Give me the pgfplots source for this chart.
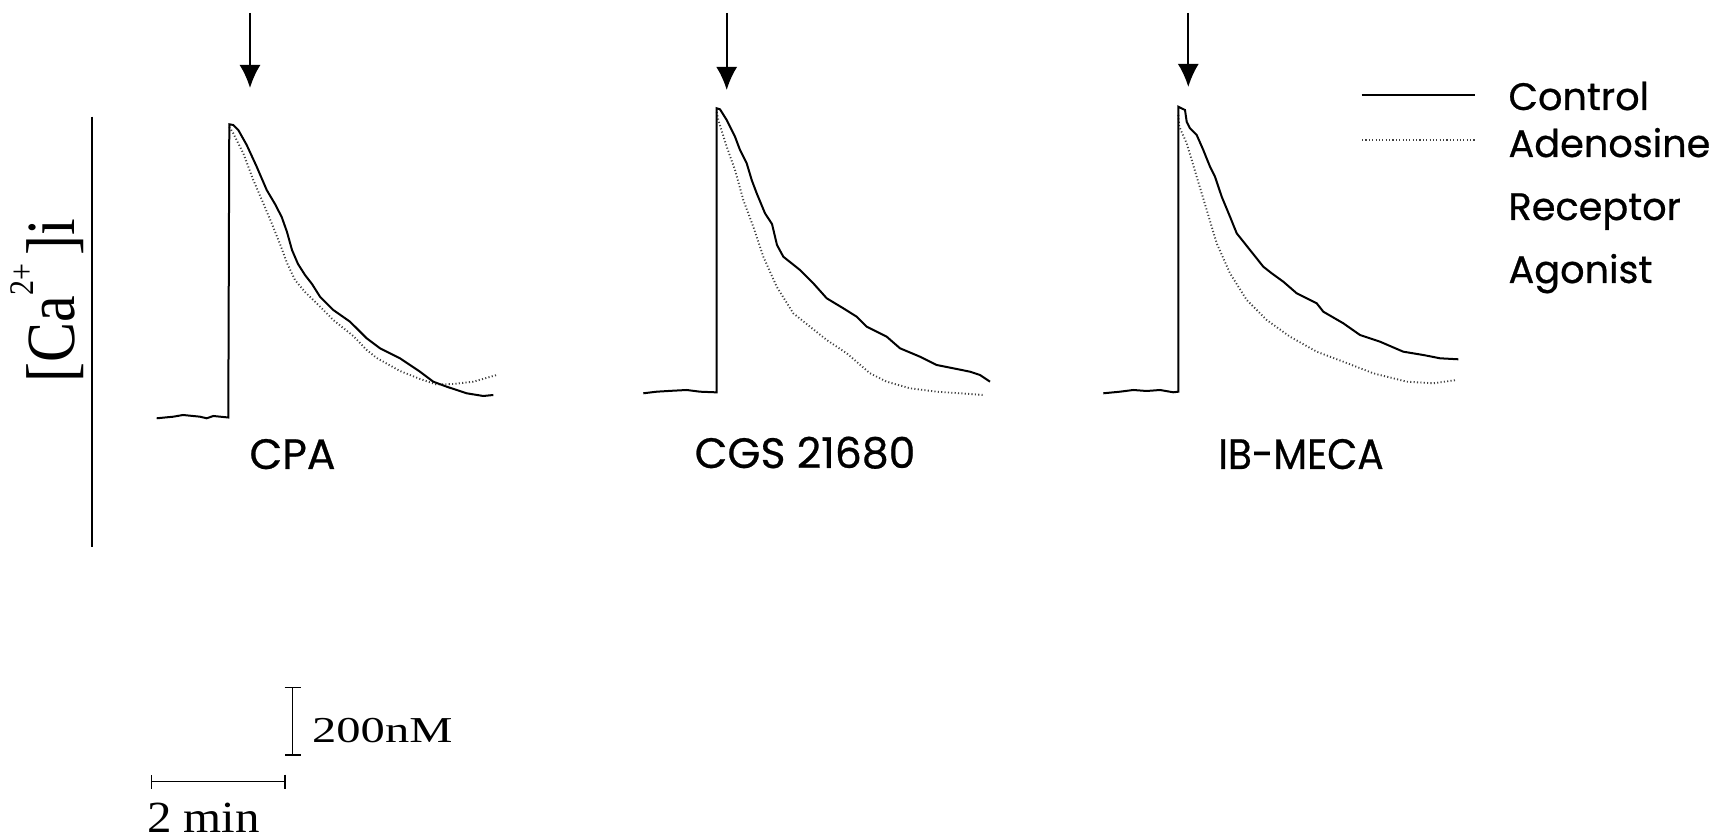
\documentclass[border=0pt]{standalone}
\usepackage{pgfplots}
\pgfplotsset{compat=1.18}
\usepackage{pgfplotstable}
\usepackage{fontspec}
\setmainfont{Liberation Serif}
\newfontfamily\gothic{Poppins}[FakeBold=0.6]
\usetikzlibrary{arrows.meta}

% traces in picture units (x: time, y: [Ca2+]i, downward = lower)
\pgfplotstableread{
x y
156.7 418.3
173.3 416.7
183 415
200 416.7
206.7 418.3
213.3 416
228.3 417.5
229.3 124.3
233.3 125
238.3 130
246.7 145
256.7 166.7
266.7 190
275 204
281.7 217
287 232
292 250
298 264
305 275
312 284
320 296.7
333.3 310
350 321.7
366.7 338.3
380 348.3
400 358.3
420 371.7
433.3 381.7
446.7 386.7
466.7 393.3
483.3 396
493.3 395
}\cpaC
\pgfplotstableread{
x y
229.3 127
233.3 133.3
243.3 153.3
253.3 180
263.3 203.3
271.7 223.3
280 244
287 263
295 280
305 292
316.7 303.3
333.3 320
353.3 336
366.7 350
376.7 358
400 371
420 379
436.7 384.5
453.3 384
473.3 381.7
496.7 375
}\cpaA
\pgfplotstableread{
x y
643.3 393.3
656.7 391.7
673.3 390.7
686.7 390
700 391.7
715 392.3
716.7 392.3
716.7 108.3
720 109.3
726.7 120
735 136.7
740 150
746.7 163.3
751.7 180
756.7 193.3
765 213.3
772 224
777 245
783.3 256.7
800 270
813.3 283.3
826.7 298.3
843.3 308.3
856.7 316.7
866.7 326.7
886.7 336.7
900 348.3
920 356.7
936.7 365
953.3 368.3
970 371.7
980 375
990 381.7
}\cgsC
\pgfplotstableread{
x y
716.7 112
718.3 120
726.7 146.7
735 170
743.3 200
753.3 226.7
763.3 256.7
776.7 286.7
793.3 313.3
810 326.7
826.7 340
846.7 353.3
870 373.3
886.7 381.7
910 388.3
936.7 391.7
960 393.3
983.3 395
}\cgsA
\pgfplotstableread{
x y
1103.3 393.3
1120 391.7
1133.3 390
1146.7 391
1160 390
1173.3 392.3
1178.3 391.7
1178.3 106.7
1185 110
1186.7 121.7
1190 128.3
1196.7 135
1203.3 150
1210 166.7
1215 176.7
1221.7 196.7
1230 216.7
1236.7 233.3
1250 250
1263.3 266.7
1271.7 273.3
1283.3 281.7
1296.7 293.3
1316.7 303.3
1323.3 311.7
1343.3 323.3
1360 335
1380 341.7
1403.3 351.7
1423.3 355
1440 358.3
1458.3 359.3
}\ibC
\pgfplotstableread{
x y
1178.3 115
1179.3 126.7
1186.7 143.3
1196.7 176.7
1206.7 210
1216.7 243.3
1230 273.3
1246.7 300
1266.7 320
1290 336.7
1316.7 351.7
1343.3 361.7
1373.3 373.3
1406.7 381.7
1433.3 383.3
1456.7 380
}\ibA

\begin{document}
\begin{tikzpicture}
\begin{axis}[
  scale only axis, width=688.8pt, height=335.6pt,
  xmin=0, xmax=1722, ymin=0, ymax=839, y dir=reverse,
  hide axis, clip=false,
  ctrl/.style={black, line width=0.8pt},
  agon/.style={black!75, line width=0.75pt, dash pattern=on 0.45pt off 0.9pt},
]
% ordinate line
\addplot[black, line width=0.8pt] coordinates {(92,116.7) (92,546.7)};
% traces
\addplot[agon] table {\cpaA};
\addplot[ctrl] table {\cpaC};
\addplot[agon] table {\cgsA};
\addplot[ctrl] table {\cgsC};
\addplot[agon] table {\ibA};
\addplot[ctrl] table {\ibC};
% application arrows
\addplot[black, line width=0.8pt, -{Latex[length=9.2pt,width=8.4pt]}] coordinates {(250,13) (250,88)};
\addplot[black, line width=0.8pt, -{Latex[length=9.2pt,width=8.4pt]}] coordinates {(726.7,13) (726.7,90)};
\addplot[black, line width=0.8pt, -{Latex[length=9.2pt,width=8.4pt]}] coordinates {(1188.3,13) (1188.3,87)};
% legend
\addplot[ctrl] coordinates {(1361.7,95) (1475,95)};
\addplot[agon] coordinates {(1362,140) (1475,140)};
% scale bars
\addplot[black, line width=0.6pt, {Bar[width=6.4pt]}-{Bar[width=6.4pt]}] coordinates {(292.7,686.7) (292.7,755.7)};
\addplot[black, line width=0.6pt, {Bar[width=5.6pt]}-{Bar[width=5.6pt]}] coordinates {(150.7,781.7) (285.7,781.7)};

% texts
\node[anchor=base, rotate=90, inner sep=0pt] at (axis cs:75,300.5)
  {\scalebox{1}[1.15]{\fontsize{24}{24}\selectfont [Ca\raisebox{0.6em}{\fontsize{12}{12}\selectfont 2+}\hspace{0.15em}]i}};
\node[anchor=base, inner sep=0pt] at (axis cs:292.5,469) {\gothic\fontsize{17}{20}\selectfont CPA};
\node[anchor=base, inner sep=0pt] at (axis cs:805,468) {\gothic\fontsize{17}{20}\selectfont CGS 21680};
\node[anchor=base, inner sep=0pt] at (axis cs:1301,469) {\scalebox{0.92}[1]{\gothic\fontsize{17}{20}\selectfont IB-MECA}};
\node[anchor=base west, inner sep=0pt] at (axis cs:1508,110) {\gothic\fontsize{15.3}{18}\selectfont Control};
\node[anchor=base west, inner sep=0pt] at (axis cs:1508,157) {\gothic\fontsize{15.3}{18}\selectfont Adenosine};
\node[anchor=base west, inner sep=0pt] at (axis cs:1508,220) {\gothic\fontsize{15.3}{18}\selectfont Receptor};
\node[anchor=base west, inner sep=0pt] at (axis cs:1508,283) {\gothic\fontsize{15.3}{18}\selectfont Agonist};
\node[anchor=base west, inner sep=0pt] at (axis cs:311.7,742.5) {\scalebox{1.33}[1]{\fontsize{14.6}{16}\selectfont 200nM}};
\node[anchor=base west, inner sep=0pt] at (axis cs:146.7,833) {\scalebox{1.1}[1]{\fontsize{17.8}{20}\selectfont 2 min}};
\end{axis}
\path (current axis.south west) rectangle (current axis.north east);
\end{tikzpicture}
\end{document}
